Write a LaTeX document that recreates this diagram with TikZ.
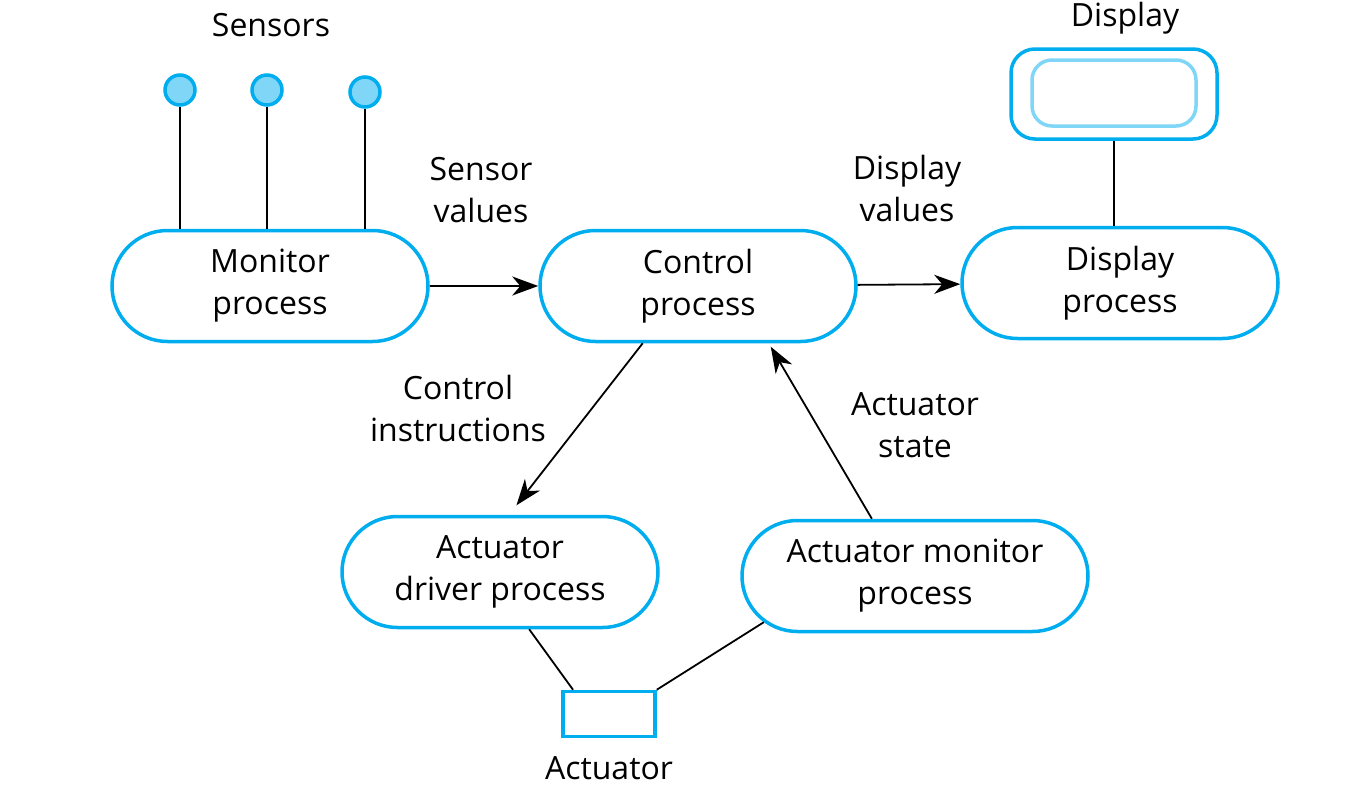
\documentclass[tikz,border=0pt]{standalone}
\usepackage{fontspec}
\setmainfont{Open Sans}
\usepackage{tikz}
\usetikzlibrary{shapes.misc, arrows.meta, positioning, calc}
\definecolor{linecyan}{RGB}{0, 174, 239}
\definecolor{lightcyan}{RGB}{128, 214, 247}

\begin{document}
\begin{tikzpicture}[
        x=1pt, y=-1pt,
        font=\fontsize{32}{42}\selectfont,
        process/.style={rounded rectangle, draw=linecyan, line width=3.5pt, fill=white, minimum width=316pt, minimum height=111pt, align=center, inner sep=0pt},
        sensor/.style={circle, draw=linecyan, fill=lightcyan, line width=3.5pt, minimum size=30pt, inner sep=0pt},
        screen/.style={rectangle, rounded corners=24pt, draw=linecyan, line width=3.5pt, minimum width=206pt, minimum height=90pt},
        actbox/.style={rectangle, draw=linecyan, line width=3.5pt, minimum width=92pt, minimum height=45pt},
        caption/.style={align=center, inner sep=0pt},
        arrow/.style={line width=1.8pt, -{Stealth[length=26pt, width=19pt, inset=8pt]}},
        link/.style={line width=1.8pt}
    ]
        \useasboundingbox (0,0) rectangle (1369,798);

        % Processes
        \node[process] (monitor) at (270,286) {Monitor\\process};
        \node[process] (control) at (698,286) {Control\\process};
        \node[process] (dispproc) at (1120,283) {Display\\process};
        \node[process, minimum width=316pt] (driver) at (500,572) {Actuator\\driver process};
        \node[process, minimum width=346pt] (actmon) at (915,576) {Actuator monitor\\process};

        % Sensors
        \node[sensor] (s1) at (180,90) {};
        \node[sensor] (s2) at (267,90) {};
        \node[sensor] (s3) at (365,92) {};
        \node[caption] (sensors) at (271,25) {Sensors};

        % Display
        \node[screen] (display) at (1114,94) {};
        \node[screen, draw=lightcyan, rounded corners=20pt, minimum width=164pt, minimum height=66pt] (dispin) at (1114,93) {};
        \node[caption] (displbl) at (1125,18) {Display};

        % Actuator
        \node[actbox] (actuator) at (609,714) {};
        \node[caption, below=18pt of actuator] (actlbl) {Actuator};

        % Sensor links
        \draw[link] (s1) -- (s1 |- monitor.north);
        \draw[link] (s2) -- (s2 |- monitor.north);
        \draw[link] (s3) -- (s3 |- monitor.north);
        \draw[link] (display) -- (display |- dispproc.north);

        % Data flow
        \draw[arrow] (monitor) -- (control);
        \draw[arrow] (control) -- (dispproc);
        \draw[arrow, shorten >=12pt] (control.226) -- (driver.81);
        \draw[arrow, shorten >=4pt] (actmon.127) -- (control.321);

        % Actuator links
        \draw[link] (driver.297) -- (actuator.146);
        \draw[link] (actuator.north east) -- (actmon.197);

        % Labels
        \node[caption] at (481,190) {Sensor\\values};
        \node[caption] at (907,188) {Display\\values};
        \node[caption] at (458,408) {Control\\instructions};
        \node[caption] at (915,425) {Actuator\\state};
    \end{tikzpicture}
\end{document}
